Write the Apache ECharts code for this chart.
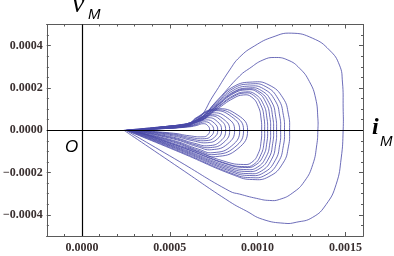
<!DOCTYPE html>
<html>
<head>
<meta charset="utf-8">
<script src="https://cdn.jsdelivr.net/npm/echarts@6/dist/echarts.min.js"></script>
<style>html,body{margin:0;padding:0;background:#fff}#c{width:394px;height:256px}</style>
</head>
<body>
<div id="c"></div>
<script>
// values in units of 1e-4 (i_M, v_M)
const outerLoopA = [[2.39,0],[4.0,0.12],[5.5,0.25],[6.53,0.49],[7.5,1.67],[8.41,2.85],[8.98,3.46],[9.83,3.99],[10.87,4.41],[11.92,4.59],[13.13,4.35],[14.09,3.79],[14.66,3.08],[14.83,2.28],[14.87,1.06],[14.87,0],[14.76,-1.31],[14.47,-2.56],[13.9,-3.51],[13.13,-4.12],[12.2,-4.35],[11.53,-4.4],[10.28,-4.21],[9.36,-3.82],[8.41,-3.38],[5.57,-1.79],[2.39,0]];
const outerLoopB = [[2.5,0],[4.0,0.12],[5.5,0.25],[6.59,0.49],[7.73,1.44],[8.98,2.57],[9.55,2.93],[10.3,3.32],[10.97,3.44],[11.72,3.32],[12.39,2.93],[12.95,2.3],[13.3,1.52],[13.43,0.57],[13.43,0],[13.37,-0.68],[13.14,-1.62],[12.67,-2.41],[12.0,-2.96],[11.25,-3.27],[10.68,-3.32],[9.93,-3.22],[8.98,-3.02],[8.41,-2.88],[5.57,-1.49],[2.5,0]];
const bandLoop1 = [[2.9,0],[4.5,0.12],[6.6,0.4],[7.7,1.0],[8.6,1.5],[9.2,1.67],[9.66,1.57],[10.04,1.12],[10.2,0.53],[10.23,0],[10.2,-0.52],[10.04,-1.09],[9.66,-1.52],[9.2,-1.62],[8.2,-1.49],[5.6,-0.73],[2.9,0]];
const bandLoop2 = [[2.85,0],[4.5,0.12],[6.6,0.41],[7.7,1.06],[8.6,1.58],[9.25,1.76],[9.77,1.65],[10.19,1.18],[10.37,0.56],[10.4,0],[10.37,-0.55],[10.19,-1.15],[9.77,-1.62],[9.25,-1.72],[8.25,-1.58],[5.6,-0.77],[2.85,0]];
const bandLoop3 = [[2.8,0],[4.5,0.13],[6.6,0.42],[7.7,1.09],[8.6,1.63],[9.3,1.81],[9.87,1.7],[10.34,1.21],[10.53,0.58],[10.57,0],[10.53,-0.56],[10.34,-1.18],[9.87,-1.65],[9.3,-1.76],[8.3,-1.62],[5.6,-0.79],[2.8,0]];
const bandLoop4 = [[2.75,0],[4.5,0.13],[6.6,0.43],[7.7,1.15],[8.6,1.72],[9.35,1.91],[9.98,1.8],[10.49,1.28],[10.7,0.61],[10.74,0],[10.7,-0.6],[10.49,-1.25],[9.98,-1.75],[9.35,-1.86],[8.35,-1.71],[5.6,-0.84],[2.75,0]];
const bandLoop5 = [[2.7,0],[4.5,0.14],[6.55,0.44],[7.7,1.17],[8.6,1.76],[9.4,1.95],[10.08,1.83],[10.64,1.31],[10.86,0.62],[10.91,0],[10.86,-0.62],[10.64,-1.31],[10.08,-1.83],[9.4,-1.95],[8.4,-1.79],[5.6,-0.88],[2.7,0]];
const bandLoop6 = [[2.65,0],[4.5,0.14],[6.55,0.45],[7.7,1.2],[8.6,1.8],[9.5,2.0],[10.21,1.88],[10.8,1.34],[11.03,0.64],[11.08,0],[11.03,-0.66],[10.8,-1.37],[10.21,-1.93],[9.5,-2.05],[8.5,-1.89],[5.6,-0.92],[2.65,0]];
const bandLoop7 = [[2.6,0],[4.5,0.15],[6.5,0.46],[7.7,1.25],[8.6,1.88],[9.55,2.09],[10.34,1.96],[11.0,1.4],[11.26,0.67],[11.31,0],[11.26,-0.68],[11.0,-1.43],[10.34,-2.01],[9.55,-2.14],[8.55,-1.97],[5.6,-0.96],[2.6,0]];
const bandLoop8 = [[2.55,0],[4.5,0.15],[6.5,0.47],[7.7,1.31],[8.6,1.97],[9.6,2.19],[10.47,2.06],[11.18,1.47],[11.47,0.7],[11.53,0],[11.47,-0.72],[11.18,-1.5],[10.47,-2.11],[9.6,-2.24],[8.6,-2.06],[5.6,-1.01],[2.55,0]];
const bandLoop9 = [[2.5,0],[4.5,0.15],[6.5,0.48],[7.7,1.37],[8.6,2.05],[9.7,2.28],[10.65,2.14],[11.44,1.53],[11.76,0.73],[11.82,0],[11.76,-0.75],[11.44,-1.56],[10.65,-2.19],[9.7,-2.33],[8.7,-2.14],[5.6,-1.05],[2.5,0]];
const smallLoop1 = [[3.0,0],[4.5,0.07],[6.0,0.15],[6.5,0.22],[6.9,0.31],[7.16,0.22],[7.27,0],[7.16,-0.22],[6.9,-0.31],[6.1,-0.26],[5.2,-0.14],[3.0,0]];
const smallLoop2 = [[2.95,0],[4.5,0.07],[6.0,0.17],[6.5,0.26],[6.98,0.4],[7.34,0.28],[7.5,0],[7.34,-0.28],[6.98,-0.4],[6.18,-0.34],[5.2,-0.18],[2.95,0]];
const smallLoop3 = [[2.9,0],[4.5,0.08],[6.0,0.18],[6.5,0.3],[7.06,0.49],[7.53,0.34],[7.73,0],[7.53,-0.34],[7.06,-0.49],[6.26,-0.42],[5.2,-0.22],[2.9,0]];
const smallLoop4 = [[2.85,0],[4.5,0.08],[6.0,0.19],[6.5,0.35],[7.14,0.59],[7.71,0.41],[7.95,0],[7.71,-0.41],[7.14,-0.59],[6.34,-0.5],[5.2,-0.27],[2.85,0]];
const smallLoop5 = [[2.8,0],[4.5,0.09],[6.0,0.2],[6.5,0.4],[7.22,0.68],[7.89,0.48],[8.18,0],[7.89,-0.51],[7.22,-0.73],[6.42,-0.62],[5.2,-0.33],[2.8,0]];
const smallLoop6 = [[2.75,0],[4.5,0.09],[6.0,0.21],[6.5,0.43],[7.3,0.73],[8.08,0.51],[8.41,0],[8.08,-0.57],[7.3,-0.82],[6.5,-0.7],[5.2,-0.37],[2.75,0]];
const smallLoop7 = [[2.7,0],[4.5,0.1],[6.0,0.22],[6.5,0.48],[7.38,0.82],[8.3,0.57],[8.69,0],[8.3,-0.64],[7.38,-0.92],[6.58,-0.78],[5.2,-0.41],[2.7,0]];
const smallLoop8 = [[2.65,0],[4.5,0.1],[6.0,0.23],[6.5,0.54],[7.46,0.92],[8.52,0.64],[8.98,0],[8.52,-0.74],[7.46,-1.06],[6.66,-0.9],[5.2,-0.48],[2.65,0]];
const smallLoop9 = [[2.6,0],[4.5,0.11],[6.0,0.24],[6.5,0.56],[7.52,0.96],[8.7,0.67],[9.2,0],[8.7,-0.8],[7.52,-1.15],[6.72,-0.98],[5.2,-0.52],[2.6,0]];
const smallLoop10 = [[2.55,0],[4.5,0.11],[6.0,0.25],[6.5,0.59],[7.6,1.01],[8.88,0.71],[9.43,0],[8.88,-0.87],[7.6,-1.25],[6.8,-1.06],[5.2,-0.56],[2.55,0]];

const xMajorTicks = [0, 0.0005, 0.001, 0.0015];
const xMinorTicks = [-0.0002,-0.0001,0,0.0001,0.0002,0.0003,0.0004,0.0005,0.0006,0.0007,0.0008,0.0009,0.001,0.0011,0.0012,0.0013,0.0014,0.0015,0.0016];
const yMajorTicks = [-0.0004, -0.0002, 0, 0.0002, 0.0004];
const yMinorTicks = [-0.0005,-0.00045,-0.0004,-0.00035,-0.0003,-0.00025,-0.0002,-0.00015,-0.0001,-0.00005,0,0.00005,0.0001,0.00015,0.0002,0.00025,0.0003,0.00035,0.0004,0.00045,0.0005];

const loops = [outerLoopA, outerLoopB, bandLoop1, bandLoop2, bandLoop3, bandLoop4, bandLoop5, bandLoop6, bandLoop7, bandLoop8, bandLoop9,
  smallLoop1, smallLoop2, smallLoop3, smallLoop4, smallLoop5, smallLoop6, smallLoop7, smallLoop8, smallLoop9, smallLoop10];
const SCALE = 1e-4;

const frameColor = '#5a5a5a';
const labelFont = {fontFamily: '"Liberation Serif"', fontWeight: 'bold', fontSize: 12, color: '#3a3030'};
function fmt(v) {
  const s = Math.abs(v).toFixed(4);
  return v < -1e-12 ? '\u2212' + s : s;
}
function xAx(pos, ticks, len, labels) {
  return {type: 'value', min: -0.0002, max: 0.0016, position: pos,
    axisLine: {show: true, onZero: false, lineStyle: {color: frameColor, width: 1}},
    axisTick: {show: true, inside: true, length: len, customValues: ticks, lineStyle: {color: frameColor, width: 1}},
    axisLabel: labels ? Object.assign({show: true, margin: 6, customValues: xMajorTicks, formatter: fmt}, labelFont) : {show: false},
    splitLine: {show: false}};
}
function yAx(pos, ticks, len, labels) {
  return {type: 'value', min: -0.0005, max: 0.0005, position: pos,
    axisLine: {show: true, onZero: false, lineStyle: {color: frameColor, width: 1}},
    axisTick: {show: true, inside: true, length: len, customValues: ticks, lineStyle: {color: frameColor, width: 1}},
    axisLabel: labels ? Object.assign({show: true, margin: 4, customValues: yMajorTicks, formatter: fmt}, labelFont) : {show: false},
    splitLine: {show: false}};
}

const series = loops.map((pts) => ({
  type: 'custom', xAxisIndex: 0, yAxisIndex: 0, silent: true, z: 2,
  data: pts.map(p => [p[0] * SCALE, p[1] * SCALE]),
  renderItem: function (params, api) {
    if (params.dataIndex !== 0) return null;
    const points = pts.map(p => api.coord([p[0] * SCALE, p[1] * SCALE]));
    return {type: 'polyline', shape: {points: points, smooth: 0.5},
      style: {stroke: '#4848a8', lineWidth: 1, fill: null, opacity: 0.8}};
  }
}));
series.push({
  type: 'line', xAxisIndex: 0, yAxisIndex: 0, data: [], symbol: 'none', z: 5,
  markLine: {silent: true, symbol: ['none', 'none'], label: {show: false},
    lineStyle: {color: '#000', width: 1.2, type: 'solid'},
    data: [{yAxis: 0}, {xAxis: 0}]}
});

const chart = echarts.init(document.getElementById('c'), null, {renderer: 'canvas'});
chart.setOption({
  animation: false,
  grid: {left: 46, right: 31, top: 24.5, bottom: 20, containLabel: false},
  xAxis: [xAx('bottom', xMajorTicks, 4, true), xAx('bottom', xMinorTicks, 2, false), xAx('top', xMajorTicks, 4, false), xAx('top', xMinorTicks, 2, false)],
  yAxis: [yAx('left', yMajorTicks, 4, true), yAx('left', yMinorTicks, 2, false), yAx('right', yMajorTicks, 4, false), yAx('right', yMinorTicks, 2, false)],
  series: series,
  graphic: [
    {type: 'text', x: 72, y: 5, style: {text: 'v', font: 'italic 28px "Liberation Serif"', fill: '#000', verticalAlign: 'middle'}},
    {type: 'text', x: 88, y: 14.8, style: {text: 'M', font: 'italic 15px "Liberation Sans"', fill: '#000', verticalAlign: 'middle'}},
    {type: 'text', x: 372, y: 128, style: {text: 'i', font: 'italic bold 24px "Liberation Serif"', fill: '#000', verticalAlign: 'middle'}},
    {type: 'text', x: 380, y: 141.8, style: {text: 'M', font: 'italic 15px "Liberation Sans"', fill: '#000', verticalAlign: 'middle'}},
    {type: 'text', x: 65, y: 147.1, style: {text: 'O', font: 'italic 17px "Liberation Sans"', fill: '#000', verticalAlign: 'middle'}}
  ]
});
</script>
</body>
</html>
